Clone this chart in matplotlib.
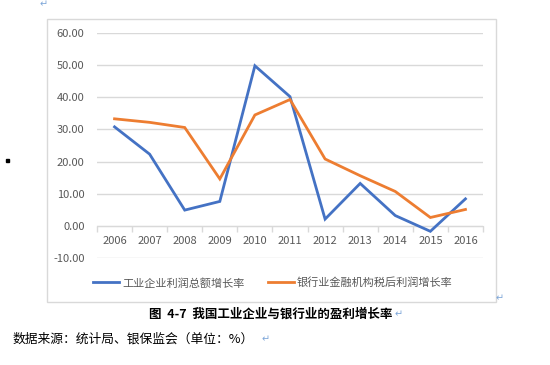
import matplotlib
matplotlib.use("Agg")
import matplotlib.pyplot as plt
from matplotlib.patches import Rectangle
from matplotlib.ticker import FixedLocator

plt.rcParams['font.family'] = ['Noto Sans CJK SC', 'DejaVu Sans']

years = ['2006', '2007', '2008', '2009', '2010', '2011', '2012', '2013', '2014', '2015', '2016']
industry = [30.8, 22.3, 4.9, 7.6, 49.8, 40.2, 2.1, 13.2, 3.2, -1.7, 8.4]
banking = [33.3, 32.2, 30.6, 14.6, 34.5, 39.3, 20.8, 15.6, 10.7, 2.6, 5.1]
series_names = ['工业企业利润总额增长率', '银行业金融机构税后利润增长率']
yticks = [-10, 0, 10, 20, 30, 40, 50, 60]
caption = '图  4-7  我国工业企业与银行业的盈利增长率'
source = '数据来源：统计局、银保监会（单位：%）'

W, H = 550, 365
fig = plt.figure(figsize=(W / 100, H / 100), dpi=100)
fig.patch.set_facecolor('white')

def fx(px):
    return px / W

def fy(py):
    return 1 - py / H

# outer chart frame
fig.patches.append(Rectangle((fx(47), fy(302)), fx(496) - fx(47), fy(19) - fy(302),
                             transform=fig.transFigure, fill=False,
                             edgecolor='#D9D9D9', linewidth=1.0))

ax = fig.add_axes([fx(97), fy(258), fx(483) - fx(97), fy(33) - fy(258)])
x = list(range(len(years)))
l1, = ax.plot(x, industry, color='#4472C4', linewidth=2.0, solid_joinstyle='miter')
l2, = ax.plot(x, banking, color='#ED7D31', linewidth=2.0, solid_joinstyle='miter')

ax.set_xlim(-0.5, len(years) - 0.5)
ax.set_ylim(-10, 60)
ax.set_yticks(yticks)
ax.set_yticklabels([f'{v:.2f}' for v in yticks])
ax.yaxis.grid(True, color='#D9D9D9', linewidth=1.0)
ax.set_axisbelow(True)
for s in ['left', 'right', 'top']:
    ax.spines[s].set_visible(False)
ax.spines['bottom'].set_position(('data', 0))
ax.spines['bottom'].set_color('#D9D9D9')
ax.spines['bottom'].set_zorder(1)
ax.set_xticks(x)
ax.set_xticklabels(years)
ax.xaxis.set_minor_locator(FixedLocator([i - 0.5 for i in range(len(years) + 1)]))
ax.tick_params(axis='x', which='major', length=0, pad=7, labelsize=8, labelcolor='#595959')
ax.tick_params(axis='x', which='minor', length=4, width=1, color='#D9D9D9', direction='out')
ax.tick_params(axis='y', length=0, pad=9, labelsize=8, labelcolor='#595959')

fig.legend([l1, l2], series_names, loc='center', bbox_to_anchor=(fx(273), fy(283)),
           ncol=2, frameon=False, fontsize=8, handlelength=2.3, handletextpad=0.3,
           columnspacing=2.1, labelcolor='#595959')

fig.text(fx(271), fy(314), caption, ha='center', va='center', fontsize=9, fontweight='bold')
fig.text(fx(13), fy(339), source, ha='left', va='center', fontsize=9.2, color='black')

# Word paragraph marks
mark_color = '#7FA7D9'
for (px, py) in [(44, 4), (500, 298), (399, 314), (266, 339)]:
    fig.text(fx(px), fy(py), '↵', ha='center', va='center', fontsize=7,
             color=mark_color, family='DejaVu Sans')

# small bullet square
fig.patches.append(Rectangle((fx(5.5), fy(161.5)), fx(3), fy(0) - fy(3),
                             transform=fig.transFigure, color='black'))

fig.savefig('out.png', dpi=100, facecolor='white')
